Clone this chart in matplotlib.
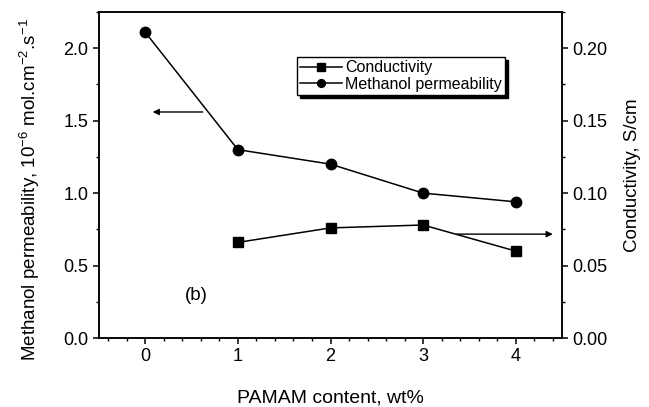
import numpy as np
import matplotlib
matplotlib.use('Agg')
import matplotlib.pyplot as plt
from matplotlib.ticker import MultipleLocator, FormatStrFormatter

plt.rcParams['font.family'] = ['Liberation Sans', 'DejaVu Sans']
plt.rcParams['mathtext.default'] = 'regular'

pamam = [0, 1, 2, 3, 4]
permeability = [2.11, 1.30, 1.20, 1.00, 0.94]
pamam_cond = [1, 2, 3, 4]
conductivity = [0.066, 0.076, 0.078, 0.060]

fig = plt.figure(figsize=(6.49, 4.07), dpi=100)
ax = fig.add_axes([0.1525, 0.1695, 0.866 - 0.1525, 0.9705 - 0.1695])
ax2 = ax.twinx()

l1, = ax.plot(pamam, permeability, '-o', color='black', lw=1.1, ms=7.5,
              label='Methanol permeability')
l2, = ax2.plot(pamam_cond, conductivity, '-s', color='black', lw=1.1, ms=6.8,
               label='Conductivity')

ax.set_xlim(-0.5, 4.5)
ax.set_ylim(0, 2.25)
ax2.set_ylim(0, 0.225)

ax.xaxis.set_major_locator(MultipleLocator(1))
ax.xaxis.set_minor_locator(MultipleLocator(0.2))
ax.yaxis.set_major_locator(MultipleLocator(0.5))
ax.yaxis.set_minor_locator(MultipleLocator(0.25))
ax.yaxis.set_major_formatter(FormatStrFormatter('%.1f'))
ax2.yaxis.set_major_locator(MultipleLocator(0.05))
ax2.yaxis.set_minor_locator(MultipleLocator(0.025))
ax2.yaxis.set_major_formatter(FormatStrFormatter('%.2f'))

for a in (ax, ax2):
    for s in a.spines.values():
        s.set_linewidth(1.1)
    a.tick_params(which='major', direction='out', length=4, width=1.1, labelsize=13)
    a.tick_params(which='minor', direction='out', length=2.5, width=1.0)

ax.set_xlabel('PAMAM content, wt%', fontsize=14, labelpad=17.5)
ax.set_ylabel('Methanol permeability, 10$^{-6}$ mol.cm$^{-2}$.s$^{-1}$', fontsize=13.5)
ax.yaxis.set_label_coords(-0.123, 0.455)
ax2.set_ylabel('Conductivity, S/cm', fontsize=13.5, labelpad=12)

# direction arrows
ax.annotate('', xy=(0.05, 1.56), xytext=(0.65, 1.56),
            arrowprops=dict(arrowstyle='-|>', color='black', lw=1.0, mutation_scale=9))
ax2.annotate('', xy=(4.43, 0.0717), xytext=(3.33, 0.0717),
             arrowprops=dict(arrowstyle='-|>', color='black', lw=1.0, mutation_scale=9))

ax.text(0.43, 0.26, '(b)', fontsize=13.5)

leg = ax2.legend(handles=[l2, l1], loc='upper left', bbox_to_anchor=(0.428, 0.862),
                 borderaxespad=0, fancybox=False, edgecolor='black', fontsize=11.5,
                 handlelength=2.6, markerscale=0.75, borderpad=0.2, labelspacing=0.1,
                 handletextpad=0.2, shadow={'color': 'black', 'alpha': 1})
leg.get_frame().set_linewidth(1.0)

plt.savefig('out.png', dpi=100)
